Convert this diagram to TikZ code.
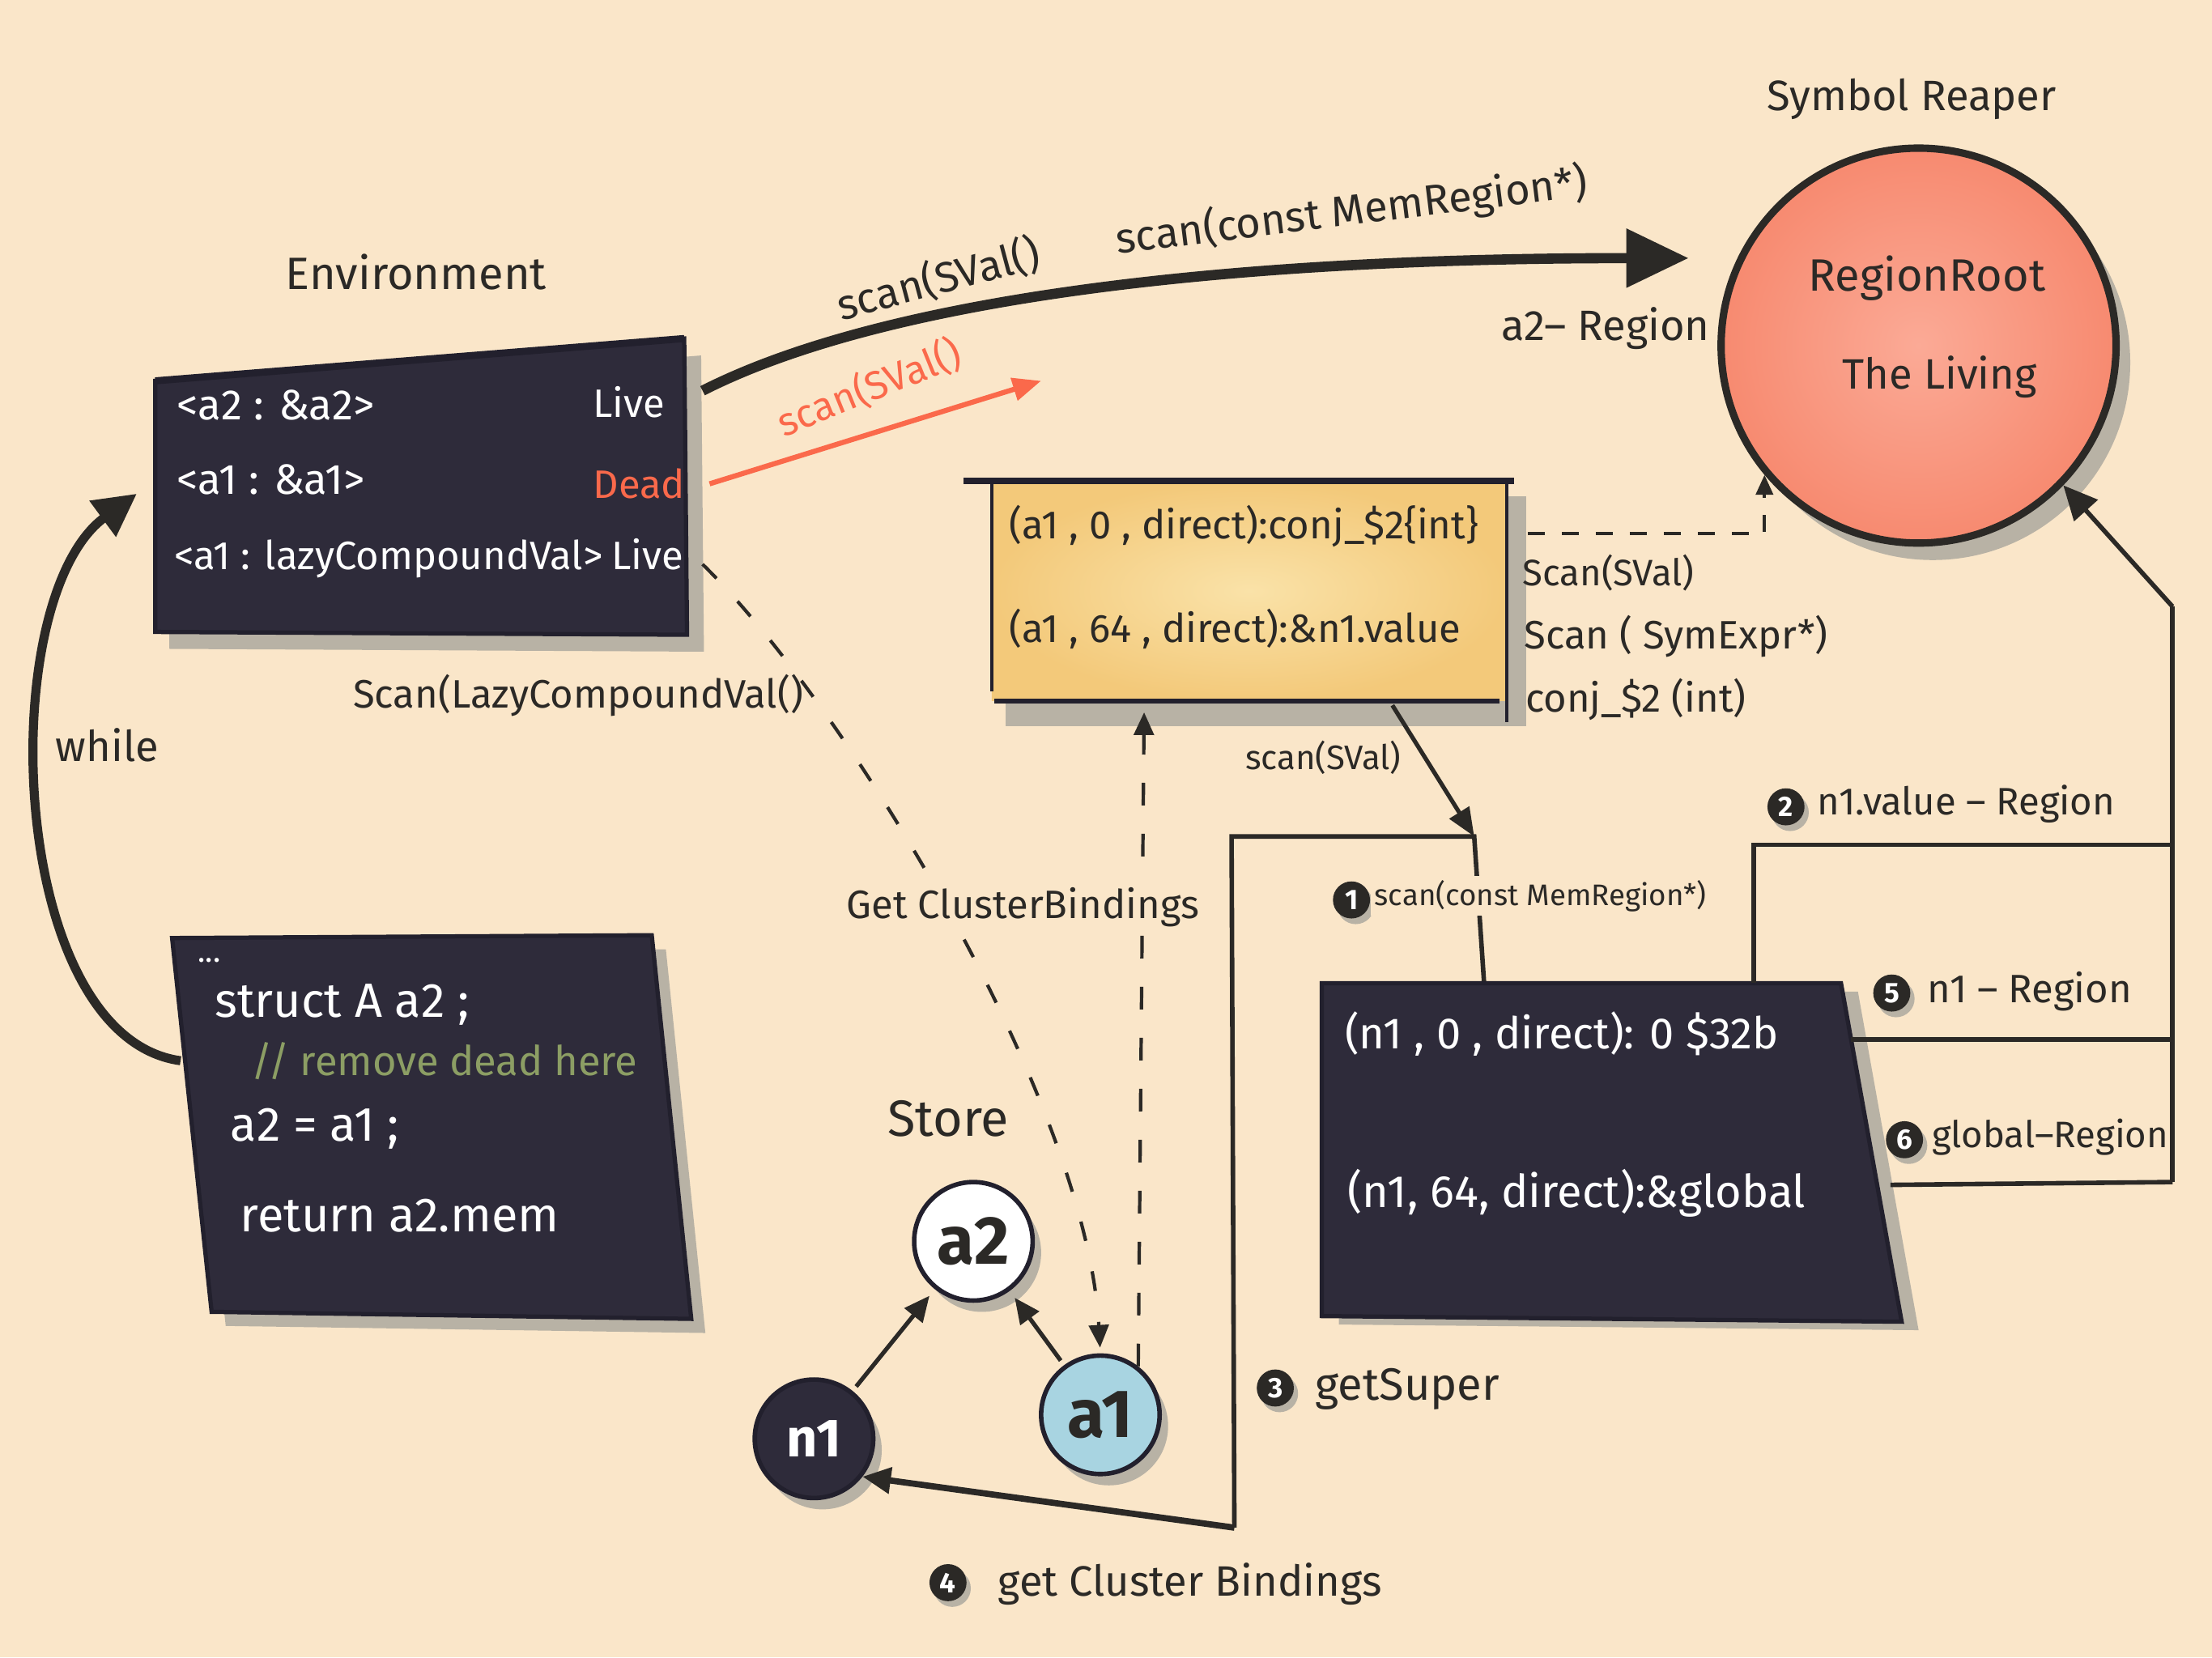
\documentclass[tikz,border=0pt]{standalone}
\usepackage{fontspec}
\setmainfont{Fira Sans}
\usetikzlibrary{arrows.meta,shadows}
\definecolor{bg}{RGB}{250,230,201}
\definecolor{ink}{RGB}{43,41,38}
\definecolor{boxd}{RGB}{46,43,58}
\definecolor{boxe}{RGB}{34,32,45}
\definecolor{shd}{RGB}{184,178,165}
\definecolor{orng}{RGB}{250,105,75}
\definecolor{cmt}{RGB}{140,158,100}
\definecolor{salL}{RGB}{251,170,150}
\definecolor{salD}{RGB}{247,138,112}
\definecolor{yelL}{RGB}{250,226,168}
\definecolor{yelD}{RGB}{243,201,122}
\definecolor{blu}{RGB}{168,212,225}
\newcommand\badge[3]{\node[circle,fill=ink,text=white,inner sep=0pt,minimum size=0.46cm,
  font=\bfseries\fontsize{10}{10}\selectfont,
  drop shadow={shadow xshift=1.5pt,shadow yshift=-2pt,fill=shd,opacity=1}] (#1) at (#2) {#3};}
\begin{document}
\begin{tikzpicture}[x=0.0175cm,y=-0.0175cm,
  fs/.style={font=\fontsize{#1}{#1}\selectfont},
  lbl/.style={text=ink,inner sep=0pt},
  knock/.style={fill=bg,inner sep=2pt},
  wl/.style={text=white,inner sep=0pt,anchor=west},
  wire/.style={draw=ink,line width=1.6pt},
  dsh/.style={draw=ink,line width=1.2pt,dash pattern=on 7pt off 11pt},
  smalltip/.style={-{Triangle[length=9pt,width=8pt]}},
  storenode/.style={circle,draw=boxe,line width=1.6pt,minimum size=1.47cm,inner sep=0pt,
     drop shadow={shadow xshift=3pt,shadow yshift=-4pt,fill=shd,opacity=1}},
  ]
\fill[bg] (0,0) rectangle (1568,1175);
\useasboundingbox (0,0) rectangle (1568,1175);

% ---------------- Environment -----------------
\node[lbl,fs=16] (envlbl) at (295,193) {Environment};
\fill[shd] (120,282) -- (497,252) -- (499,462) -- (120,460) -- cycle;
\filldraw[fill=boxd,draw=boxe,line width=1.5pt] (110,270) -- (485,240) -- (487,450) -- (110,448) -- cycle;
\draw[boxe,line width=2.5pt] (110,270) -- (485,240);
\node[wl,fs=15] (e1) at (125,287) {<a2 : \&a2>};
\node[wl,fs=14] (e1s) at (420,285) {Live};
\node[wl,fs=15] (e2) at (125,340) {<a1 : \&a1>};
\node[wl,fs=14,text=orng] (e2s) at (420,343) {Dead};
\node[wl,fs=14] (e3) at (123,396) {<a1 : lazyCompoundVal>};
\node[wl,fs=14] (e3s) at (433,393) {Live};
\coordinate (envTop) at (498,277);
\coordinate (envMid) at (503,343);
\coordinate (envLow) at (498,400);
\coordinate (envLeft) at (97,350);

% ---------------- Code box -----------------
\fill[shd] (132,675) -- (472,673) -- (500,945) -- (160,940) -- cycle;
\filldraw[fill=boxd,draw=boxe,line width=1.5pt] (122,665) -- (462,663) -- (490,935) -- (150,930) -- cycle;
\node[wl,fs=11] (c0) at (140,681) {...};
\node[wl,fs=17] (c1) at (152,712) {struct A a2 ;};
\node[wl,fs=14.5,text=cmt] (c2) at (178,752) {// remove dead here};
\node[wl,fs=17] (c3) at (163,800) {a2 = a1 ;};
\node[wl,fs=17] (c4) at (170,862) {return a2.mem};
\coordinate (codeLeft) at (128,752);

% while arrow
\draw[ink,line width=3.2pt,-{Triangle[length=15pt,width=15pt]}]
  (codeLeft) .. controls (5,735) and (-5,425) .. (envLeft);
\node[lbl,fs=15] (while) at (76,528) {while};

% ---------------- top arrows -----------------
\coordinate (topTip) at (1197,183);
\draw[ink,line width=3.6pt,-{Triangle[length=22pt,width=20pt]}]
  (envTop) .. controls (620,215) and (850,183) .. (topTip);
\node[lbl,fs=15,rotate=15] (t1) at (665,198) {scan(SVal()};
\node[lbl,fs=15,rotate=7] (t2) at (958,150) {scan(const MemRegion*)};
\coordinate (orTip) at (738,270);
\draw[orng,line width=1.8pt,-{Triangle[length=10pt,width=8pt]}] (envMid) -- (orTip);
\node[lbl,fs=14,rotate=22,text=orng] (t3) at (616,275) {scan(SVal()};
\node[lbl,fs=15] (a2reg) at (1138,233) {a2– Region};

% ---------------- Symbol Reaper -----------------
\node[lbl,fs=15] (srlbl) at (1355,70) {Symbol Reaper};
\node[circle,draw=ink,line width=2.6pt,inner color=salL,outer color=salD,minimum size=4.9cm,
  drop shadow={shadow xshift=5pt,shadow yshift=-6pt,fill=shd,opacity=1}] (root) at (1360,245) {};
\node[lbl,fs=16] (rr) at (1366,197) {RegionRoot};
\node[lbl,fs=15] (tl) at (1375,267) {The Living};

% ---------------- yellow box -----------------
\fill[shd] (713,352) rectangle (1082,515);
\shade[inner color=yelL,outer color=yelD] (703,341) rectangle (1068,497);
\draw[boxe,line width=2.2pt] (683,341) -- (1073,341);
\draw[boxe,line width=1.3pt] (703,341) -- (703,490);
\draw[boxe,line width=1.3pt] (1068,341) -- (1068,512);
\draw[boxe,line width=1.8pt] (705,497) -- (1063,497);
\node[lbl,fs=14,anchor=west] (y1) at (715,373) {(a1 , 0 , direct):conj\_\$2\{int\}};
\node[lbl,fs=14,anchor=west] (y2) at (715,446) {(a1 , 64 , direct):\&n1.value};
\node[lbl,fs=13,anchor=west] (r1) at (1079,406) {Scan(SVal)};
\node[lbl,fs=14,anchor=west] (r2) at (1080,451) {Scan ( SymExpr*)};
\node[lbl,fs=14,anchor=west] (r3) at (1081,496) {conj\_\$2 (int)};
\coordinate (yRight) at (1083,378);
\coordinate (yBotA) at (811,505);
\coordinate (yBotB) at (987,500);
\draw[ink,line width=1.2pt,dash pattern=on 6pt off 6pt,-{Triangle[length=7pt,width=6pt]}] (yRight) -| (root.220);

% ---------------- Store -----------------
\node[lbl,fs=18] (store) at (672,793) {Store};
\node[storenode,fill=white,text=ink,font=\bfseries\fontsize{24}{24}\selectfont] (a2) at (690,880) {a2};
\node[storenode,fill=boxd,text=white,font=\bfseries\fontsize{19}{19}\selectfont] (n1) at (577,1020) {n1};
\node[storenode,fill=blu,text=ink,font=\bfseries\fontsize{24}{24}\selectfont] (a1) at (780,1003) {a1};
\draw[ink,line width=1.5pt,smalltip,shorten <=2pt,shorten >=3pt] (n1) -- (a2);
\draw[ink,line width=1.5pt,smalltip,shorten <=2pt,shorten >=3pt] (a1) -- (a2);

% ---------------- dashed links -----------------
\draw[dsh,-{Triangle[length=8pt,width=7pt]},shorten >=2pt] (envLow) .. controls (600,500) and (770,780) .. (a1.north);
\draw[dsh,dash pattern=on 8pt off 10pt,-{Triangle[length=8pt,width=7pt]}] (a1.52) -- (yBotA);
\node[lbl,fs=14,anchor=west] (lzy) at (250,493) {Scan(LazyCompoundVal()};
\node[lbl,knock,fs=14] (gcb) at (725,643) {Get ClusterBindings};

% ---------------- n1 box & frame -----------------
\coordinate (fTL) at (873,593);
\coordinate (fTR) at (1045,593);
\coordinate (fBL) at (875,1083);
\coordinate (bTop) at (1052,697);
\draw[ink,line width=1.5pt,-{Triangle[length=10pt,width=8pt]}] (yBotB) -- (fTR);
\node[lbl,fs=12] (ss) at (938,537) {scan(SVal)};
\draw[wire] (fBL) -- (fTL) -- (fTR) -- (bTop);
\draw[ink,line width=2.2pt,-{Triangle[length=10pt,width=9pt]}] (fBL) -- (n1.-38);

\fill[shd] (949,703) -- (1317,703) -- (1360,943) -- (949,939) -- cycle;
\filldraw[fill=boxd,draw=boxe,line width=1.5pt] (937,697) -- (1305,697) -- (1348,937) -- (937,933) -- cycle;
\node[wl,fs=15.5] (b1) at (953,733) {(n1 , 0 , direct): 0 \$32b};
\node[wl,fs=16] (b2) at (955,846) {(n1, 64, direct):\&global};

\badge{k1}{958,638}{1}
\node[lbl,knock,inner sep=1.5pt,fs=10.5,anchor=west] (k1t) at (971,635) {scan(const MemRegion*)};
\badge{k3}{904,984}{3}
\node[lbl,fs=16,anchor=west] (k3t) at (932,985) {getSuper};
\badge{k4}{672,1122}{4}
\node[lbl,fs=15,anchor=west] (k4t) at (707,1123) {get Cluster Bindings};

% ---------------- right side lines -----------------
\coordinate (rTop) at (1540,430);
\coordinate (rBot) at (1540,838);
\coordinate (v2) at (1243,697);
\coordinate (h2L) at (1243,599);
\coordinate (h2R) at (1540,599);
\coordinate (h5L) at (1312,737);
\coordinate (h5R) at (1540,737);
\coordinate (h6L) at (1340,840);
\draw[wire] (rBot) -- (rTop);
\draw[ink,line width=1.6pt,-{Triangle[length=12pt,width=11pt]}] (rTop) -- (root.-44);
\draw[wire] (v2) -- (h2L) -- (h2R);
\draw[wire] (h5L) -- (h5R);
\draw[wire] (h6L) -- (rBot);
\badge{k2}{1266,572}{2}
\node[lbl,fs=13.5,anchor=west] (k2t) at (1288,570) {n1.value – Region};
\badge{k5}{1341,704}{5}
\node[lbl,fs=14,anchor=west] (k5t) at (1366,703) {n1 – Region};
\badge{k6}{1350,808}{6}
\node[lbl,fs=13,anchor=west] (k6t) at (1369,806) {global–Region};
\end{tikzpicture}
\end{document}
